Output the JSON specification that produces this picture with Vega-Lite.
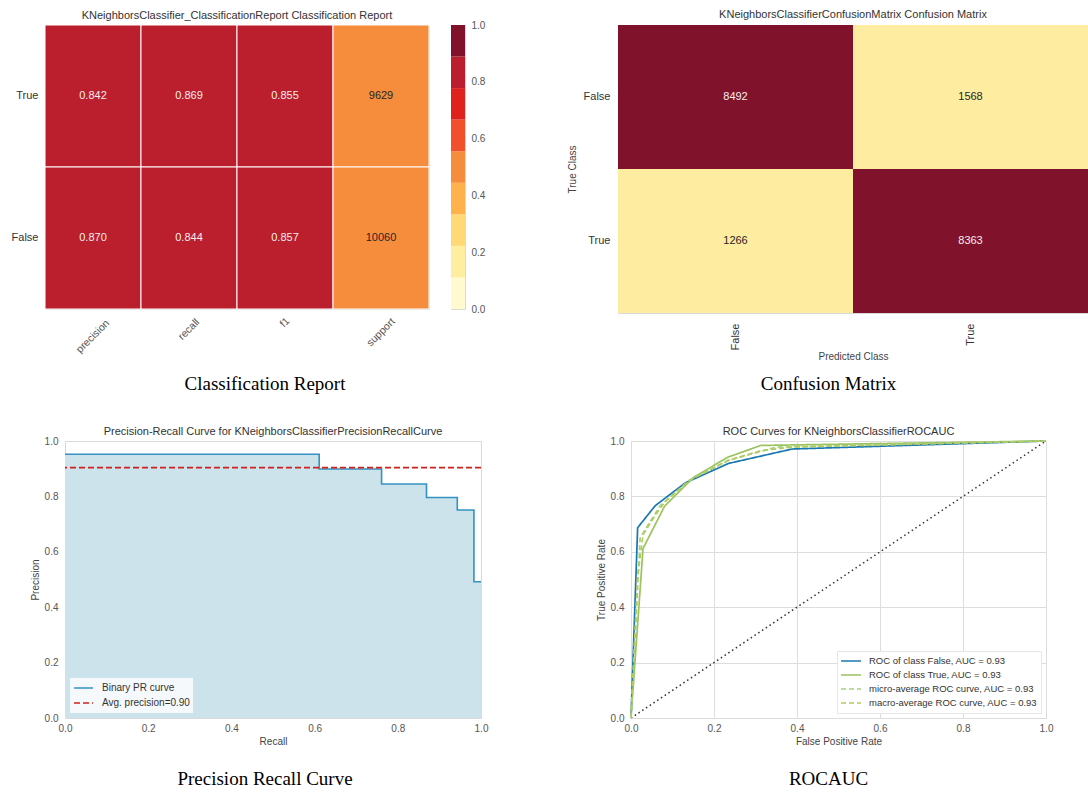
{
  "$schema": "https://vega.github.io/schema/vega-lite/v6.json",
  "padding": {"left": 9, "top": 8, "right": 0, "bottom": 0},
  "background": "white",
  "datasets": {
    "report": [
      {"cls": "True", "metric": "precision", "value": 0.842, "shade": 0.842},
      {"cls": "True", "metric": "recall", "value": 0.869, "shade": 0.869},
      {"cls": "True", "metric": "f1", "value": 0.855, "shade": 0.855},
      {"cls": "True", "metric": "support", "value": 9629, "shade": 0.489},
      {"cls": "False", "metric": "precision", "value": 0.870, "shade": 0.870},
      {"cls": "False", "metric": "recall", "value": 0.844, "shade": 0.844},
      {"cls": "False", "metric": "f1", "value": 0.857, "shade": 0.857},
      {"cls": "False", "metric": "support", "value": 10060, "shade": 0.511}
    ],
    "bins": [
      {"lo": 0.0, "hi": 0.1111, "mid": 0.0556},
      {"lo": 0.1111, "hi": 0.2222, "mid": 0.1667},
      {"lo": 0.2222, "hi": 0.3333, "mid": 0.2778},
      {"lo": 0.3333, "hi": 0.4444, "mid": 0.3889},
      {"lo": 0.4444, "hi": 0.5556, "mid": 0.5},
      {"lo": 0.5556, "hi": 0.6667, "mid": 0.6111},
      {"lo": 0.6667, "hi": 0.7778, "mid": 0.7222},
      {"lo": 0.7778, "hi": 0.8889, "mid": 0.8333},
      {"lo": 0.8889, "hi": 1.0, "mid": 0.9444}
    ],
    "cm": [
      {"actual": "False", "predicted": "False", "count": 8492},
      {"actual": "False", "predicted": "True", "count": 1568},
      {"actual": "True", "predicted": "False", "count": 1266},
      {"actual": "True", "predicted": "True", "count": 8363}
    ],
    "pr": [
      {"series": "Binary PR curve", "recall": 0.0, "precision": 0.952},
      {"series": "Binary PR curve", "recall": 0.611, "precision": 0.899},
      {"series": "Binary PR curve", "recall": 0.761, "precision": 0.845},
      {"series": "Binary PR curve", "recall": 0.869, "precision": 0.796},
      {"series": "Binary PR curve", "recall": 0.943, "precision": 0.751},
      {"series": "Binary PR curve", "recall": 0.983, "precision": 0.492},
      {"series": "Binary PR curve", "recall": 1.0, "precision": 0.492}
    ],
    "ap": [{"series": "Avg. precision=0.90", "precision": 0.904}],
    "diag": [{"fpr": 0, "tpr": 0}, {"fpr": 1, "tpr": 1}],
    "roc": [
      {"series": "ROC of class False, AUC = 0.93", "fpr": 0.0, "tpr": 0.0},
      {"series": "ROC of class False, AUC = 0.93", "fpr": 0.016, "tpr": 0.687},
      {"series": "ROC of class False, AUC = 0.93", "fpr": 0.058, "tpr": 0.766},
      {"series": "ROC of class False, AUC = 0.93", "fpr": 0.131, "tpr": 0.849},
      {"series": "ROC of class False, AUC = 0.93", "fpr": 0.235, "tpr": 0.919},
      {"series": "ROC of class False, AUC = 0.93", "fpr": 0.388, "tpr": 0.971},
      {"series": "ROC of class False, AUC = 0.93", "fpr": 1.0, "tpr": 1.0},
      {"series": "ROC of class True, AUC = 0.93", "fpr": 0.0, "tpr": 0.0},
      {"series": "ROC of class True, AUC = 0.93", "fpr": 0.029, "tpr": 0.612},
      {"series": "ROC of class True, AUC = 0.93", "fpr": 0.081, "tpr": 0.765},
      {"series": "ROC of class True, AUC = 0.93", "fpr": 0.151, "tpr": 0.869},
      {"series": "ROC of class True, AUC = 0.93", "fpr": 0.234, "tpr": 0.942},
      {"series": "ROC of class True, AUC = 0.93", "fpr": 0.313, "tpr": 0.984},
      {"series": "ROC of class True, AUC = 0.93", "fpr": 1.0, "tpr": 1.0},
      {"series": "micro-average ROC curve, AUC = 0.93", "fpr": 0.0, "tpr": 0.0},
      {"series": "micro-average ROC curve, AUC = 0.93", "fpr": 0.022, "tpr": 0.65},
      {"series": "micro-average ROC curve, AUC = 0.93", "fpr": 0.07, "tpr": 0.766},
      {"series": "micro-average ROC curve, AUC = 0.93", "fpr": 0.141, "tpr": 0.859},
      {"series": "micro-average ROC curve, AUC = 0.93", "fpr": 0.235, "tpr": 0.93},
      {"series": "micro-average ROC curve, AUC = 0.93", "fpr": 0.35, "tpr": 0.978},
      {"series": "micro-average ROC curve, AUC = 0.93", "fpr": 1.0, "tpr": 1.0},
      {"series": "macro-average ROC curve, AUC = 0.93", "fpr": 0.0, "tpr": 0.0},
      {"series": "macro-average ROC curve, AUC = 0.93", "fpr": 0.016, "tpr": 0.512},
      {"series": "macro-average ROC curve, AUC = 0.93", "fpr": 0.029, "tpr": 0.662},
      {"series": "macro-average ROC curve, AUC = 0.93", "fpr": 0.058, "tpr": 0.731},
      {"series": "macro-average ROC curve, AUC = 0.93", "fpr": 0.081, "tpr": 0.779},
      {"series": "macro-average ROC curve, AUC = 0.93", "fpr": 0.131, "tpr": 0.844},
      {"series": "macro-average ROC curve, AUC = 0.93", "fpr": 0.151, "tpr": 0.866},
      {"series": "macro-average ROC curve, AUC = 0.93", "fpr": 0.234, "tpr": 0.93},
      {"series": "macro-average ROC curve, AUC = 0.93", "fpr": 0.313, "tpr": 0.965},
      {"series": "macro-average ROC curve, AUC = 0.93", "fpr": 0.388, "tpr": 0.978},
      {"series": "macro-average ROC curve, AUC = 0.93", "fpr": 1.0, "tpr": 1.0}
    ]
  },
  "spacing": 30,
  "resolve": {"scale": {"color": "independent", "strokeDash": "independent"}, "legend": {"color": "independent", "strokeDash": "independent"}},
  "vconcat": [
    {
      "spacing": 80,
      "resolve": {"scale": {"color": "independent", "strokeDash": "independent"}, "legend": {"color": "independent", "strokeDash": "independent"}},
      "hconcat": [
        {
          "spacing": 0,
          "resolve": {"scale": {"color": "independent"}, "legend": {"color": "independent"}},
          "hconcat": [
            {
              "width": 1,
              "height": 10,
              "data": {"values": []},
              "mark": "point",
              "view": {"stroke": null}
            },
            {
              "title": {"text": "Classification Report", "orient": "bottom", "font": "Liberation Serif", "fontSize": 19, "color": "#000000", "offset": 20, "frame": "bounds", "anchor": "middle", "dx": 17},
              "bounds": "flush",
              "spacing": 22,
              "resolve": {"scale": {"color": "independent"}, "legend": {"color": "independent"}},
              "hconcat": [
                {
                  "width": 384,
                  "height": 284,
                  "title": {"text": "KNeighborsClassifier_ClassificationReport Classification Report", "offset": 4},
                  "data": {"name": "report"},
                  "encoding": {
                    "x": {"field": "metric", "type": "nominal", "sort": ["precision", "recall", "f1", "support"], "scale": {"paddingInner": 0, "paddingOuter": 0}, "axis": {"title": null, "labelAngle": -45, "labelAlign": "center", "labelBaseline": "middle", "labelPadding": {"condition": [{"test": "datum.value === 'precision'", "value": 27}, {"test": "datum.value === 'recall'", "value": 20}, {"test": "datum.value === 'f1'", "value": 13}], "value": 23}, "labelFontSize": 10.5}},
                    "y": {"field": "cls", "type": "nominal", "sort": ["True", "False"], "scale": {"paddingInner": 0, "paddingOuter": 0}, "axis": {"title": null, "labelPadding": 7, "labelFontSize": 11, "labelColor": "#333333"}}
                  },
                  "layer": [
                    {
                      "mark": {"type": "rect", "stroke": "white", "strokeWidth": 1},
                      "encoding": {
                        "color": {"field": "shade", "type": "quantitative", "scale": {"type": "quantize", "domain": [0, 1], "nice": false, "range": ["#fffbcf", "#ffeda0", "#fed976", "#feb24c", "#f68d3d", "#f24f2d", "#e0221f", "#bb1e2c", "#80132b"]}, "legend": null}
                      }
                    },
                    {
                      "mark": {"type": "text", "fontSize": 11},
                      "encoding": {
                        "text": {"condition": {"test": "datum.metric === 'support'", "field": "value", "format": "d"}, "field": "value", "format": ".3f"},
                        "color": {"condition": {"test": "datum.shade > 0.6", "value": "#f4eeee"}, "value": "#262626"}
                      }
                    }
                  ]
                },
                {
                  "width": 14,
                  "height": 284,
                  "data": {"name": "bins"},
                  "mark": {"type": "rect"},
                  "encoding": {
                    "y": {"field": "lo", "type": "quantitative", "scale": {"domain": [0, 1], "nice": false, "zero": false}, "axis": {"orient": "right", "values": [0, 0.2, 0.4, 0.6, 0.8, 1], "format": ".1f", "title": null, "labelPadding": 6, "labelFontSize": 10}},
                    "y2": {"field": "hi"},
                    "color": {"field": "mid", "type": "quantitative", "scale": {"type": "quantize", "domain": [0, 1], "nice": false, "range": ["#fffbcf", "#ffeda0", "#fed976", "#feb24c", "#f68d3d", "#f24f2d", "#e0221f", "#bb1e2c", "#80132b"]}, "legend": null}
                  }
                }
              ]
            }
          ]
        },
        {
          "title": {"text": "Confusion Matrix", "orient": "bottom", "font": "Liberation Serif", "fontSize": 19, "color": "#000000", "offset": 13, "frame": "bounds", "anchor": "middle", "dx": 1},
          "resolve": {"scale": {"color": "independent"}, "legend": {"color": "independent"}},
          "vconcat": [
            {
              "width": 470,
              "height": 288,
              "title": {"text": "KNeighborsClassifierConfusionMatrix Confusion Matrix", "offset": 5},
              "data": {"name": "cm"},
              "encoding": {
                "x": {"field": "predicted", "type": "nominal", "sort": ["False", "True"], "scale": {"paddingInner": 0, "paddingOuter": 0}, "axis": {"title": "Predicted Class", "labelAngle": -90, "labelAlign": "right", "labelBaseline": "middle", "labelPadding": 10, "labelFontSize": 11, "labelColor": "#333333", "titlePadding": 2}},
                "y": {"field": "actual", "type": "nominal", "sort": ["False", "True"], "scale": {"paddingInner": 0, "paddingOuter": 0}, "axis": {"title": "True Class", "labelPadding": 8, "labelFontSize": 11, "labelColor": "#333333", "titlePadding": 6}}
              },
              "layer": [
                {
                  "mark": {"type": "rect"},
                  "encoding": {
                    "color": {"field": "count", "type": "quantitative", "scale": {"type": "quantize", "domain": [0, 8492], "nice": false, "range": ["#fffbcf", "#feeca0", "#fed976", "#feb24c", "#f68d3d", "#f24f2d", "#e0221f", "#bb1e2c", "#80132b"]}, "legend": null}
                  }
                },
                {
                  "mark": {"type": "text", "fontSize": 11},
                  "encoding": {
                    "text": {"field": "count", "type": "quantitative", "format": "d"},
                    "color": {"condition": {"test": "datum.count > 5000", "value": "#f4eeee"}, "value": "#262626"}
                  }
                }
              ]
            }
          ]
        }
      ]
    },
    {
      "spacing": 106,
      "resolve": {"scale": {"color": "independent", "strokeDash": "independent"}, "legend": {"color": "independent", "strokeDash": "independent"}},
      "hconcat": [
        {
          "spacing": 0,
          "resolve": {"scale": {"color": "independent", "strokeDash": "independent"}, "legend": {"color": "independent", "strokeDash": "independent"}},
          "hconcat": [
            {
              "width": 20,
              "height": 10,
              "data": {"values": []},
              "mark": "point",
              "view": {"stroke": null}
            },
            {
              "title": {"text": "Precision Recall Curve", "orient": "bottom", "font": "Liberation Serif", "fontSize": 19, "color": "#000000", "offset": 23, "frame": "bounds", "anchor": "middle", "dx": 6},
              "resolve": {"scale": {"color": "independent", "strokeDash": "independent"}, "legend": {"color": "independent", "strokeDash": "independent"}},
              "vconcat": [
                {
                  "width": 416,
                  "height": 277,
                  "title": {"text": "Precision-Recall Curve for KNeighborsClassifierPrecisionRecallCurve", "offset": -1},
                  "layer": [
                    {
                      "data": {"name": "pr"},
                      "mark": {"type": "area", "interpolate": "step-after", "color": "#cce3ec"},
                      "encoding": {
                        "x": {"field": "recall", "type": "quantitative", "scale": {"domain": [0, 1], "nice": false}, "axis": {"title": "Recall", "values": [0, 0.2, 0.4, 0.6, 0.8, 1], "format": ".1f", "labelPadding": 5, "titlePadding": 3}},
                        "y": {"field": "precision", "type": "quantitative", "scale": {"domain": [0, 1], "nice": false}, "axis": {"title": "Precision", "values": [0, 0.2, 0.4, 0.6, 0.8, 1], "format": ".1f", "labelPadding": 7, "titlePadding": 4}}
                      }
                    },
                    {
                      "data": {"name": "pr"},
                      "mark": {"type": "line", "interpolate": "step-after", "strokeWidth": 1.6},
                      "encoding": {
                        "x": {"field": "recall", "type": "quantitative"},
                        "y": {"field": "precision", "type": "quantitative"},
                        "color": {"field": "series", "type": "nominal", "scale": {"domain": ["Binary PR curve", "Avg. precision=0.90"], "range": ["#3391c3", "#d0211c"]}, "legend": {"title": null, "orient": "bottom-left", "offset": 5, "symbolType": "stroke", "symbolSize": 360, "symbolStrokeWidth": 1.6, "fillColor": "#f5f9fb", "padding": 3, "rowPadding": 1, "clipHeight": 14, "labelFontSize": 10, "labelColor": "#333333", "labelOffset": 8}},
                        "strokeDash": {"field": "series", "type": "nominal", "scale": {"domain": ["Binary PR curve", "Avg. precision=0.90"], "range": [[1, 0], [6, 3]]}, "legend": {"title": null, "orient": "bottom-left", "offset": 5, "symbolType": "stroke", "symbolSize": 360, "symbolStrokeWidth": 1.6, "fillColor": "#f5f9fb", "padding": 3, "rowPadding": 1, "clipHeight": 14, "labelFontSize": 10, "labelColor": "#333333", "labelOffset": 8}}
                      }
                    },
                    {
                      "data": {"name": "ap"},
                      "mark": {"type": "rule", "strokeWidth": 1.6},
                      "encoding": {
                        "y": {"field": "precision", "type": "quantitative"},
                        "color": {"field": "series", "type": "nominal"},
                        "strokeDash": {"field": "series", "type": "nominal"}
                      }
                    }
                  ]
                }
              ]
            }
          ]
        },
        {
          "title": {"text": "ROCAUC", "orient": "bottom", "font": "Liberation Serif", "fontSize": 19, "color": "#000000", "offset": 23, "frame": "bounds", "anchor": "middle", "dx": 4},
          "resolve": {"scale": {"color": "independent", "strokeDash": "independent"}, "legend": {"color": "independent", "strokeDash": "independent"}},
          "vconcat": [
            {
              "width": 415,
              "height": 277,
              "title": {"text": "ROC Curves for KNeighborsClassifierROCAUC", "offset": -1},
              "layer": [
                {
                  "data": {"name": "diag"},
                  "mark": {"type": "line", "color": "#333333", "strokeWidth": 1.5, "strokeDash": [1.5, 3]},
                  "encoding": {
                    "x": {"field": "fpr", "type": "quantitative", "scale": {"domain": [0, 1], "nice": false}, "axis": {"title": "False Positive Rate", "values": [0, 0.2, 0.4, 0.6, 0.8, 1], "format": ".1f", "grid": true, "gridColor": "#dddddd", "labelPadding": 5, "titlePadding": 3}},
                    "y": {"field": "tpr", "type": "quantitative", "scale": {"domain": [0, 1], "nice": false}, "axis": {"title": "True Positive Rate", "values": [0, 0.2, 0.4, 0.6, 0.8, 1], "format": ".1f", "grid": true, "gridColor": "#dddddd", "labelPadding": 7, "titlePadding": 4}}
                  }
                },
                {
                  "data": {"name": "roc"},
                  "mark": {"type": "line", "strokeWidth": 1.7},
                  "encoding": {
                    "x": {"field": "fpr", "type": "quantitative"},
                    "y": {"field": "tpr", "type": "quantitative"},
                    "color": {"field": "series", "type": "nominal", "scale": {"domain": ["ROC of class False, AUC = 0.93", "ROC of class True, AUC = 0.93", "micro-average ROC curve, AUC = 0.93", "macro-average ROC curve, AUC = 0.93"], "range": ["#1a78b0", "#9cc35e", "#a6d07c", "#b2ca62"]}, "legend": {"title": null, "orient": "bottom-right", "offset": 5, "symbolType": "stroke", "symbolSize": 400, "symbolStrokeWidth": 1.7, "fillColor": "#ffffff", "strokeColor": "#e6e6e6", "padding": 3, "rowPadding": 0, "clipHeight": 14, "labelFontSize": 9.5, "labelColor": "#333333", "labelOffset": 7, "labelLimit": 300}},
                    "strokeDash": {"field": "series", "type": "nominal", "scale": {"domain": ["ROC of class False, AUC = 0.93", "ROC of class True, AUC = 0.93", "micro-average ROC curve, AUC = 0.93", "macro-average ROC curve, AUC = 0.93"], "range": [[1, 0], [1, 0], [5, 3], [5, 3]]}, "legend": {"title": null, "orient": "bottom-right", "offset": 5, "symbolType": "stroke", "symbolSize": 400, "symbolStrokeWidth": 1.7, "fillColor": "#ffffff", "strokeColor": "#e6e6e6", "padding": 3, "rowPadding": 0, "clipHeight": 14, "labelFontSize": 9.5, "labelColor": "#333333", "labelOffset": 7, "labelLimit": 300}}
                  }
                }
              ]
            }
          ]
        }
      ]
    }
  ],
  "config": {
    "font": "Liberation Sans",
    "view": {"stroke": "#d9d9d9"},
    "axis": {"labelFontSize": 10, "labelColor": "#555555", "titleFontSize": 10, "titleFontWeight": "normal", "titleColor": "#444444", "ticks": false, "tickSize": 0, "domain": false, "grid": false, "labelFlush": false},
    "title": {"fontSize": 11, "fontWeight": "normal", "color": "#333333", "frame": "group", "anchor": "middle"}
  }
}
